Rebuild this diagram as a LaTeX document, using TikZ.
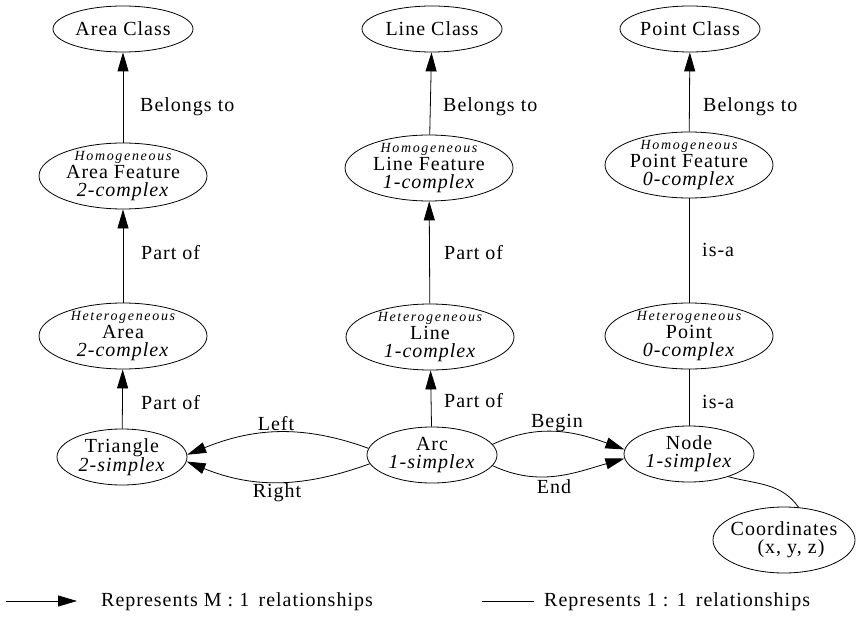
\documentclass[tikz,border=0pt]{standalone}
\usepackage{fontspec}
\setmainfont{Liberation Serif}
\newfontfamily\mainf[LetterSpace=5]{Liberation Serif}
\newfontfamily\smallf[LetterSpace=12]{Liberation Serif}
\usetikzlibrary{arrows.meta,shapes.geometric}
\newcommand{\qual}[1]{{\smallf\itshape\fontsize{14}{17}\selectfont #1}}
\begin{document}
\begin{tikzpicture}[x=1pt,y=-1pt,
  every node/.style={font=\mainf\fontsize{20}{18}\selectfont},
  ent/.style={ellipse, draw, line width=0.8pt, inner xsep=-20pt, inner ysep=-13pt, align=center},
  small/.style={ent, minimum width=130pt, minimum height=56pt},
  classbox/.style={ent, minimum width=140pt, minimum height=46pt},
  big/.style={ent, minimum width=168pt, minimum height=66pt},
  lab/.style={inner sep=0pt, anchor=west},
  many/.style={-{Triangle[length=19pt,width=11pt]}, line width=0.8pt},
  one/.style={line width=0.8pt}
]
\useasboundingbox (0,0) rectangle (856,631);

% classes
\node[classbox] (ac) at (123,29) {Area Class};
\node[classbox] (lc) at (432,29) {Line Class};
\node[classbox] (pc) at (690,29) {Point Class};

% homogeneous features
\node[big] (af) at (123,176) {\qual{Homogeneous}\\Area Feature\\\textit{2-complex}};
\node[big] (lf) at (429,168) {\qual{Homogeneous}\\Line Feature\\\textit{1-complex}};
\node[big] (pf) at (689,165) {\qual{Homogeneous}\\Point Feature\\\textit{0-complex}};

% heterogeneous
\node[big] (ah) at (123,336) {\qual{Heterogeneous}\\Area\\\textit{2-complex}};
\node[big] (lh) at (430,337) {\qual{Heterogeneous}\\Line\\\textit{1-complex}};
\node[big] (ph) at (689,336) {\qual{Heterogeneous}\\Point\\\textit{0-complex}};

% simplexes
\node[small] (tri) at (122,457) {Triangle\\\textit{2-simplex}};
\node[small] (arc) at (432,455) {Arc\\\textit{1-simplex}};
\node[small] (nd) at (689,454) {Node\\\textit{1-simplex}};
\node[ent, minimum width=142pt, minimum height=66pt] (co) at (784,540) {Coordinates\\\hspace*{14pt}(x, y, z)};

% vertical connectors
\draw[many] (af) -- (ac);
\draw[many] (lf) -- (lc);
\draw[many] (pf) -- (pc);
\draw[many] (ah) -- (af);
\draw[many] (lh) -- (lf);
\draw[one] (pf) -- (ph);
\draw[many] (tri) -- (ah);
\draw[many] (arc) -- (lh);
\draw[one] (ph) -- (nd);

\node[lab] at (140,107) {Belongs to};
\node[lab] at (443,107) {Belongs to};
\node[lab] at (703,107) {Belongs to};
\node[lab] at (141,253) {Part of};
\node[lab] at (444,253) {Part of};
\node[lab] at (702,250) {is-a};
\node[lab] at (141,403) {Part of};
\node[lab] at (444,401) {Part of};
\node[lab] at (702,402) {is-a};

% arc relations
\draw[many] (arc.174) to[out=160, in=22] (tri.2);
\draw[many] (arc.188) to[out=200, in=-22] (tri.-4);
\node at (276,424) {Left};
\node at (277,493) {Right};
\draw[many] (arc.10) to[out=25, in=160] (nd.176);
\draw[many] (arc.-10) to[out=-25, in=196] (nd.184);
\node at (557,423) {Begin};
\node at (554,487) {End};

\draw[one] (nd.-30) to[out=-15, in=125] (co.66);

% legend
\coordinate (l1a) at (6,601);
\coordinate (l1b) at (77,601);
\draw[many] (l1a) -- (l1b);
\node[lab] at (101,602) {Represents M : 1\, relationships};
\coordinate (l2a) at (482,601);
\coordinate (l2b) at (534,601);
\draw[one] (l2a) -- (l2b);
\node[lab] at (544,602) {Represents 1 : 1\, relationships};
\end{tikzpicture}
\end{document}
